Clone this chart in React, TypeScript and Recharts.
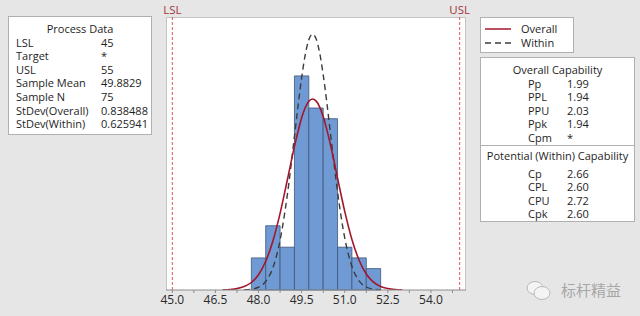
import React from "react";
import { ComposedChart, Line, XAxis, YAxis, ReferenceArea, ReferenceLine } from "recharts";

// histogram: bin edges and counts (N = 75)
const binEdges = [47.75, 48.25, 48.75, 49.25, 49.75, 50.25, 50.75, 51.25, 51.75, 52.25];
const binCounts = [3, 6, 4, 20, 17, 16, 4, 3, 2];

// fitted curves (count scale)
const curveX = [
  46.75, 47.0, 47.25, 47.5, 47.75, 48.0, 48.25, 48.5, 48.75, 49.0, 49.25, 49.375, 49.5, 49.625,
  49.75, 49.875, 50.0, 50.125, 50.25, 50.375, 50.5, 50.75, 51.0, 51.25, 51.5, 51.75, 52.0,
  52.25, 52.5, 52.75, 53.0,
];
const overallFit = [
  0.02, 0.05, 0.13, 0.32, 0.7, 1.43, 2.68, 4.58, 7.16, 10.25, 13.42, 14.8, 16.08, 17.02,
  17.62, 17.84, 17.67, 17.11, 16.21, 15.0, 13.61, 10.45, 7.35, 4.72, 2.78, 1.5, 0.74,
  0.33, 0.14, 0.05, 0.02,
];
const withinFit = [
  null, null, null, 0.02, 0.07, 0.26, 0.8, 2.08, 4.65, 8.84, 14.34, 17.2, 19.82, 21.96,
  23.37, 23.9, 23.49, 22.18, 20.12, 17.55, 14.7, 9.16, 4.86, 2.2, 0.85, 0.28, 0.08,
  0.02, null, null, null,
];

const majorTicks = [45, 46.5, 48, 49.5, 51, 52.5, 54];
const minorTicks = [45.75, 47.25, 48.75, 50.25, 51.75, 53.25, 54.75];
const specLimits = [
  { name: "LSL", value: 45 },
  { name: "USL", value: 55 },
];

const processData = [
  ["LSL", "45"],
  ["Target", "*"],
  ["USL", "55"],
  ["Sample Mean", "49.8829"],
  ["Sample N", "75"],
  ["StDev(Overall)", "0.838488"],
  ["StDev(Within)", "0.625941"],
];
const overallCap = [
  ["Pp", "1.99"],
  ["PPL", "1.94"],
  ["PPU", "2.03"],
  ["Ppk", "1.94"],
  ["Cpm", "*"],
];
const withinCap = [
  ["Cp", "2.66"],
  ["CPL", "2.60"],
  ["CPU", "2.72"],
  ["Cpk", "2.60"],
];

const BG = "#e6e6e6";
const BAR = "#6f9ad4";
const BAR_EDGE = "#3d5778";
const RED = "#a3162c";
const SPEC = "#e0505a";
const FONT = "'Open Sans', 'Noto Sans', sans-serif";

const rows = curveX.map((x, i) => ({ x, overall: overallFit[i], within: withinFit[i] }));
const allTicks = [...majorTicks, ...minorTicks].sort((a, b) => a - b);

const box: React.CSSProperties = {
  position: "absolute",
  background: "#fff",
  border: "1px solid #b0b0b0",
  boxSizing: "border-box",
  fontSize: 11,
  lineHeight: "13.6px",
  color: "#1e1e1e",
};

function TableRows({ items, labelLeft, valueLeft }: { items: string[][]; labelLeft: number; valueLeft: number }) {
  return (
    <>
      {items.map(([k, v]) => (
        <div key={k} style={{ position: "relative", height: 13.6 }}>
          <span style={{ position: "absolute", left: labelLeft }}>{k}</span>
          <span style={{ position: "absolute", left: valueLeft }}>{v}</span>
        </div>
      ))}
    </>
  );
}

export default function App() {
  return (
    <div style={{ position: "absolute", left: 0, top: 0, width: 640, height: 316, background: BG, fontFamily: FONT, overflow: "hidden" }}>
      {/* plot frame */}
      <div style={{ position: "absolute", left: 166, top: 17, width: 300, height: 273, background: "#fff", border: "1px solid #c4c4c4", borderBottom: "none", boxSizing: "border-box" }} />

      <ComposedChart
        width={640}
        height={316}
        data={rows}
        margin={{ top: 17, left: 166, right: 174, bottom: 0 }}
        style={{ position: "absolute", left: 0, top: 0 }}
      >
        <XAxis
          dataKey="x"
          type="number"
          domain={[44.78, 55.22]}
          ticks={allTicks}
          interval={0}
          allowDataOverflow
          height={26}
          tickSize={3}
          stroke="#8c8c8c"
          tick={{ fill: "#2a2a2a", fontSize: 12, fontFamily: FONT }}
          tickFormatter={(v: number) => (majorTicks.includes(v) ? v.toFixed(1) : "")}
        />
        <YAxis hide domain={[0, 25.5]} allowDataOverflow />
        {binCounts.map((c, i) => (
          <ReferenceArea
            key={i}
            x1={binEdges[i]}
            x2={binEdges[i + 1]}
            y1={0}
            y2={c}
            fill={BAR}
            fillOpacity={1}
            stroke={BAR_EDGE}
            strokeWidth={0.8}
          />
        ))}
        {specLimits.map((s) => (
          <ReferenceLine
            key={s.name}
            x={s.value}
            stroke={SPEC}
            strokeDasharray="3 2"
            label={{ value: s.name, position: "top", offset: 3, fill: "#a3343c", fontSize: 11.5, fontFamily: FONT }}
          />
        ))}
        <Line type="monotone" dataKey="within" stroke="#3c3c3c" strokeWidth={1.4} strokeDasharray="6 4" dot={false} isAnimationActive={false} />
        <Line type="monotone" dataKey="overall" stroke={RED} strokeWidth={1.6} dot={false} isAnimationActive={false} />
      </ComposedChart>

      {/* Process Data */}
      <div style={{ ...box, left: 8, top: 16, width: 144, height: 119, paddingTop: 5 }}>
        <div style={{ textAlign: "center", height: 13.6 }}>Process Data</div>
        <TableRows items={processData} labelLeft={7} valueLeft={92} />
      </div>

      {/* legend */}
      <div style={{ ...box, left: 480, top: 17, width: 94, height: 36, paddingTop: 4 }}>
        <div style={{ position: "relative", height: 14 }}>
          <svg width={26} height={14} style={{ position: "absolute", left: 4 }}>
            <line x1={0} y1={7} x2={26} y2={7} stroke={RED} strokeWidth={1.5} />
          </svg>
          <span style={{ position: "absolute", left: 40 }}>Overall</span>
        </div>
        <div style={{ position: "relative", height: 14 }}>
          <svg width={26} height={14} style={{ position: "absolute", left: 4 }}>
            <line x1={0} y1={7} x2={26} y2={7} stroke="#3c3c3c" strokeWidth={1.3} strokeDasharray="6 4" />
          </svg>
          <span style={{ position: "absolute", left: 40 }}>Within</span>
        </div>
      </div>

      {/* capability */}
      <div style={{ ...box, left: 480, top: 57, width: 155, height: 165, paddingTop: 5 }}>
        <div style={{ textAlign: "center", height: 13.6 }}>Overall Capability</div>
        <TableRows items={overallCap} labelLeft={47} valueLeft={86} />
        <div style={{ borderTop: "1px solid #b0b0b0", marginTop: 0, paddingTop: 3 }}>
          <div style={{ textAlign: "center", height: 13.6, marginBottom: 4.5 }}>Potential (Within) Capability</div>
          <TableRows items={withinCap} labelLeft={47} valueLeft={86} />
        </div>
      </div>

      {/* watermark */}
      <svg width={26} height={22} style={{ position: "absolute", left: 526, top: 280 }}>
        <ellipse cx={9} cy={8} rx={8} ry={6.5} fill="#f4f4f4" stroke="#b8b8b8" strokeWidth={1} />
        <ellipse cx={16} cy={13} rx={8} ry={6.5} fill="#f4f4f4" stroke="#b8b8b8" strokeWidth={1} />
      </svg>
      <div style={{ position: "absolute", left: 561, top: 281, fontSize: 15, color: "#a6a6a6", fontFamily: "'Noto Sans CJK SC', sans-serif", lineHeight: "18px" }}>
        标杆精益
      </div>
    </div>
  );
}
